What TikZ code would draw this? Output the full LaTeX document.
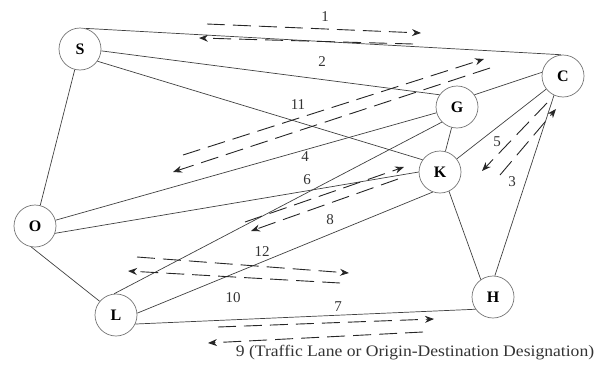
\documentclass[tikz,border=0pt]{standalone}
\usepackage{fontspec}
\usepackage{graphicx}
\setmainfont{Liberation Serif}
\usetikzlibrary{arrows.meta}
\begin{document}
\begin{tikzpicture}[x=1pt,y=-1pt,
  city/.style={circle,draw=black!55,line width=0.7pt,minimum size=42pt,inner sep=0pt,font=\fontsize{16}{16}\selectfont\bfseries},
  road/.style={draw=black!75,line width=0.7pt},
  lane/.style={draw=black!85,line width=0.9pt,dash pattern=on 18pt off 8pt,-{Stealth[length=9pt,width=7pt]}},
  lbl/.style={font=\fontsize{15}{15}\selectfont,inner sep=0pt,text=black!80}]
\useasboundingbox (0,0) rectangle (595,370);
% cities
\node[city] (S) at (80,49) {S};
\node[city] (C) at (563,76) {C};
\node[city] (G) at (457,107) {G};
\node[city] (K) at (440,172) {K};
\node[city] (O) at (35,226) {O};
\node[city] (L) at (116,315) {L};
\node[city] (H) at (493,297) {H};
% roads
\draw[road] (S.75) -- (C.95);
\draw[road] (S.355) -- (G.145);
\draw[road] (S.-35) -- (K.145);
\draw[road] (S) -- (O);
\draw[road] (C) -- (K);
\draw[road] (C.245) -- (H.85);
\draw[road] (G.35) -- (C.170);
\draw[road] (G) -- (K);
\draw[road] (O) -- (G);
\draw[road] (O.-20) -- (K.180);
\draw[road] (O.-100) -- (L.140);
\draw[road] (L.95) -- (G.225);
\draw[road] (L.5) -- (K.-110);
\draw[road] (L.-25) -- (H.215);
\draw[road] (K.-65) -- (H.125);
% lane end points
\coordinate (l1a) at (207,24);  \coordinate (l1b) at (421,33);
\coordinate (l1c) at (413,44);  \coordinate (l1d) at (199,38);
\coordinate (l2a) at (183,155); \coordinate (l2b) at (484,59);
\coordinate (l2c) at (490,68);  \coordinate (l2d) at (173,172);
\coordinate (l8a) at (245,222); \coordinate (l8b) at (404,167);
\coordinate (l8c) at (398,179); \coordinate (l8d) at (251,231);
\coordinate (l12a) at (137,257); \coordinate (l12b) at (349,273);
\coordinate (l12c) at (340,283); \coordinate (l12d) at (128,271);
\coordinate (l7a) at (218,327); \coordinate (l7b) at (434,319);
\coordinate (l7c) at (423,332); \coordinate (l7d) at (208,343);
\coordinate (l5a) at (547,103); \coordinate (l5b) at (482,171);
\coordinate (l3a) at (500,175); \coordinate (l3b) at (556,109);
% lanes
\draw[lane] (l1a) -- (l1b);
\draw[lane] (l1c) -- (l1d);
\draw[lane] (l2a) -- (l2b);
\draw[lane] (l2c) -- (l2d);
\draw[lane] (l8a) -- (l8b);
\draw[lane] (l8c) -- (l8d);
\draw[lane] (l12a) -- (l12b);
\draw[lane] (l12c) -- (l12d);
\draw[lane] (l7a) -- (l7b);
\draw[lane] (l7c) -- (l7d);
\draw[lane] (l5a) -- (l5b);
\draw[lane] (l3a) -- (l3b);
% labels
\node[lbl] (t1) at (325,17) {1};
\node[lbl] (t2) at (322,62) {2};
\node[lbl] (t11) at (298,105) {11};
\node[lbl] (t4) at (305,157) {4};
\node[lbl] (t6) at (307,180) {6};
\node[lbl] (t8) at (330,220) {8};
\node[lbl] (t12) at (262,252) {12};
\node[lbl] (t10) at (233,298) {10};
\node[lbl] (t7) at (338,307) {7};
\node[lbl] (t5) at (497,142) {5};
\node[lbl] (t3) at (512,182) {3};
\node[lbl,font=\fontsize{16}{16}\selectfont] (t9) at (415,353) {\scalebox{1.1}[1]{9 (Traffic Lane or Origin-Destination Designation)}};
\end{tikzpicture}
\end{document}
